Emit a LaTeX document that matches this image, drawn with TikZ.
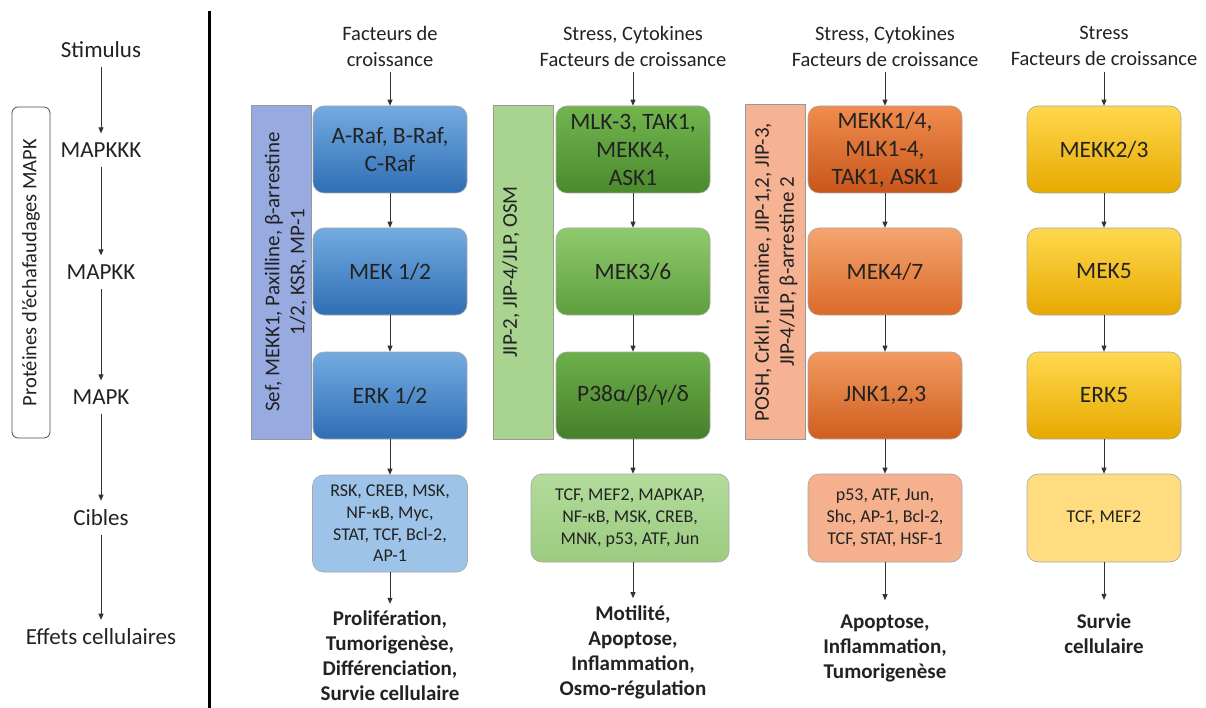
\documentclass[tikz,border=0pt]{standalone}
\usepackage{fontspec}
\setmainfont{Carlito}
\usetikzlibrary{arrows.meta}
\newcommand\fLab{\fontsize{23}{27}\selectfont}
\newcommand\fHead{\fontsize{20.5}{26}\selectfont}
\newcommand\fBox{\fontsize{23.5}{28}\selectfont}
\newcommand\fTgt{\fontsize{18}{21.7}\selectfont}
\newcommand\fEff{\fontsize{21}{25}\selectfont\bfseries}
\newcommand\fScaf{\fontsize{21}{25}\selectfont}
\newcommand\fScafL{\fontsize{20.5}{24}\selectfont}
\definecolor{txt}{HTML}{222222}
\definecolor{blueT}{HTML}{74ABE0}\definecolor{blueB}{HTML}{2F6EB5}
\definecolor{grnT1}{HTML}{72B54F}\definecolor{grnB1}{HTML}{4B8A2D}
\definecolor{grnT2}{HTML}{8FCB6E}\definecolor{grnB2}{HTML}{5E9E3E}
\definecolor{grnT3}{HTML}{6DB04A}\definecolor{grnB3}{HTML}{467F2A}
\definecolor{orT1}{HTML}{F08C4E}\definecolor{orB1}{HTML}{C8561A}
\definecolor{orT2}{HTML}{F5A56E}\definecolor{orB2}{HTML}{DB6A28}
\definecolor{orT3}{HTML}{F29A60}\definecolor{orB3}{HTML}{CF5E1E}
\definecolor{yeT}{HTML}{FFD84E}\definecolor{yeB}{HTML}{E7A900}
\definecolor{scBlue}{HTML}{97ABE0}
\definecolor{scGreen}{HTML}{A9D490}
\definecolor{scOrange}{HTML}{F6B394}
\definecolor{tgBlue}{HTML}{9DC3E8}
\definecolor{tgGreenT}{HTML}{B3DB9C}\definecolor{tgGreenB}{HTML}{9CCB80}
\definecolor{tgOrange}{HTML}{F5B08E}
\definecolor{tgYellow}{HTML}{FFDC80}
\begin{document}
\begin{tikzpicture}[x=1pt,y=1pt,
  lab/.style={font=\fLab, text=txt, inner xsep=1pt, inner ysep=9pt},
  hd/.style={font=\fHead, text=txt, align=center, inner ysep=6pt},
  arr/.style={draw=black!80, line width=0.75pt, -{Triangle[length=6pt,width=5pt]}},
  kbox/.style={draw=black!35, line width=0.6pt, rounded corners=11pt, minimum width=154pt, minimum height=87pt, align=center, font=\fBox, text=txt, inner sep=0pt},
  blueg/.style={kbox, top color=blueT, bottom color=blueB},
  grn1/.style={kbox, top color=grnT1, bottom color=grnB1},
  grn2/.style={kbox, top color=grnT2, bottom color=grnB2},
  grn3/.style={kbox, top color=grnT3, bottom color=grnB3},
  or1/.style={kbox, top color=orT1, bottom color=orB1},
  or2/.style={kbox, top color=orT2, bottom color=orB2},
  or3/.style={kbox, top color=orT3, bottom color=orB3},
  yel/.style={kbox, top color=yeT, bottom color=yeB},
  tbox/.style={draw=black!35, line width=0.6pt, rounded corners=11pt, minimum width=154pt, minimum height=88pt, align=center, font=\fTgt, text=txt, inner sep=1pt},
  scaf/.style={draw=black!40, line width=0.6pt, rotate=90, minimum width=334pt, minimum height=60pt, inner sep=0pt},
  scaftxt/.style={rotate=90, font=\fScaf, text=txt, align=center, inner sep=0pt},
  eff/.style={font=\fEff, text=txt, align=center, inner ysep=7pt}
]
\useasboundingbox (0,0) rectangle (1206,-708);

% ---------- left legend column ----------
\node[draw=black!70, line width=0.8pt, fill=white, rounded corners=6pt, rotate=90,
      minimum width=331pt, minimum height=38pt, font=\fScafL, text=txt, inner sep=0pt]
      (ps) at (31,-272.5) {Protéines d’échafaudages MAPK};
\node[lab] (L1) at (101,-50) {Stimulus};
\node[lab] (L2) at (101,-150) {MAPKKK};
\node[lab] (L3) at (101,-272) {MAPKK};
\node[lab] (L4) at (101,-397) {MAPK};
\node[lab] (L5) at (101,-518) {Cibles};
\node[lab] (L6) at (101,-637) {Effets cellulaires};
\draw[arr] (L1) -- (L2);
\draw[arr] (L2) -- (L3);
\draw[arr] (L3) -- (L4);
\draw[arr] (L4) -- (L5);
\draw[arr] (L5) -- (L6);

% separator
\draw[line width=2.6pt] (209.5,-11) -- (209.5,-708);

% ---------- column 1 : ERK1/2 ----------
\node[hd] (h1) at (390,-46) {Facteurs de\\croissance};
\node[scaf, fill=scBlue] (s1) at (281.5,-272) {};
\node[scaftxt] (s1t) at (286,-272) {Sef, MEKK1, Paxilline, β-arrestine\\1/2, KSR, MP-1};
\node[blueg] (a1) at (390,-149.5) {A-Raf, B-Raf,\\C-Raf};
\node[blueg] (a2) at (390,-271.5) {MEK 1/2};
\node[blueg] (a3) at (390,-395.5) {ERK 1/2};
\node[tbox, fill=tgBlue, minimum width=155pt, minimum height=97pt] (a4) at (390,-523.5)
     {RSK, CREB, MSK,\\NF-κB, Myc,\\STAT, TCF, Bcl-2,\\AP-1};
\node[eff] (a5) at (390,-656) {Prolifération,\\Tumorigenèse,\\Différenciation,\\Survie cellulaire};
\draw[arr] (h1) -- (a1);
\draw[arr] (a1) -- (a2);
\draw[arr] (a2) -- (a3);
\draw[arr] (a3) -- (a4);
\draw[arr] (a4) -- (a5);

% ---------- column 2 : p38 ----------
\node[hd] (h2) at (633,-46) {Stress, Cytokines\\Facteurs de croissance};
\node[scaf, fill=scGreen] (s2) at (523.5,-272) {};
\node[scaftxt] (s2t) at (511,-272) {JIP-2, JIP-4/JLP, OSM};
\node[grn1] (b1) at (633,-149.5) {MLK-3, TAK1,\\MEKK4,\\ASK1};
\node[grn2] (b2) at (633,-271.5) {MEK3/6};
\node[grn3] (b3) at (633,-395.5) {P38α/β/γ/δ};
\node[tbox, top color=tgGreenT, bottom color=tgGreenB, minimum width=198pt] (b4) at (630,-518)
     {TCF, MEF2, MAPKAP,\\NF-κB, MSK, CREB,\\MNK, p53, ATF, Jun};
\node[eff] (b5) at (633,-652) {Motilité,\\Apoptose,\\Inflammation,\\Osmo-régulation};
\draw[arr] (h2) -- (b1);
\draw[arr] (b1) -- (b2);
\draw[arr] (b2) -- (b3);
\draw[arr] (b3.south) -- (b3.south |- b4.north);
\draw[arr] (b4.south -| b5.north) -- (b5.north);

% ---------- column 3 : JNK ----------
\node[hd] (h3) at (885,-46) {Stress, Cytokines\\Facteurs de croissance};
\node[scaf, fill=scOrange, minimum width=335pt] (s3) at (775,-271.5) {};
\node[scaftxt] (s3t) at (776,-272) {POSH, CrkII, Filamine, JIP-1,2, JIP-3,\\JIP-4/JLP, β-arrestine 2};
\node[or1] (c1) at (885,-149.5) {MEKK1/4,\\MLK1-4,\\TAK1, ASK1};
\node[or2] (c2) at (885,-271.5) {MEK4/7};
\node[or3] (c3) at (885,-395.5) {JNK1,2,3};
\node[tbox, fill=tgOrange] (c4) at (885,-518) {p53, ATF, Jun,\\Shc, AP-1, Bcl-2,\\TCF, STAT, HSF-1};
\node[eff, inner ysep=14pt] (c5) at (885,-648) {Apoptose,\\Inflammation,\\Tumorigenèse};
\draw[arr] (h3) -- (c1);
\draw[arr] (c1) -- (c2);
\draw[arr] (c2) -- (c3);
\draw[arr] (c3) -- (c4);
\draw[arr] (c4) -- (c5);

% ---------- column 4 : ERK5 ----------
\node[hd] (h4) at (1104,-46) {Stress\\Facteurs de croissance};
\node[yel] (d1) at (1104,-149.5) {MEKK2/3};
\node[yel] (d2) at (1104,-271.5) {MEK5};
\node[yel] (d3) at (1104,-395.5) {ERK5};
\node[tbox, fill=tgYellow] (d4) at (1104,-518) {TCF, MEF2};
\node[eff, inner ysep=14pt] (d5) at (1104,-634) {Survie\\cellulaire};
\draw[arr] (h4) -- (d1);
\draw[arr] (d1) -- (d2);
\draw[arr] (d2) -- (d3);
\draw[arr] (d3) -- (d4);
\draw[arr] (d4) -- (d5);
\end{tikzpicture}
\end{document}
